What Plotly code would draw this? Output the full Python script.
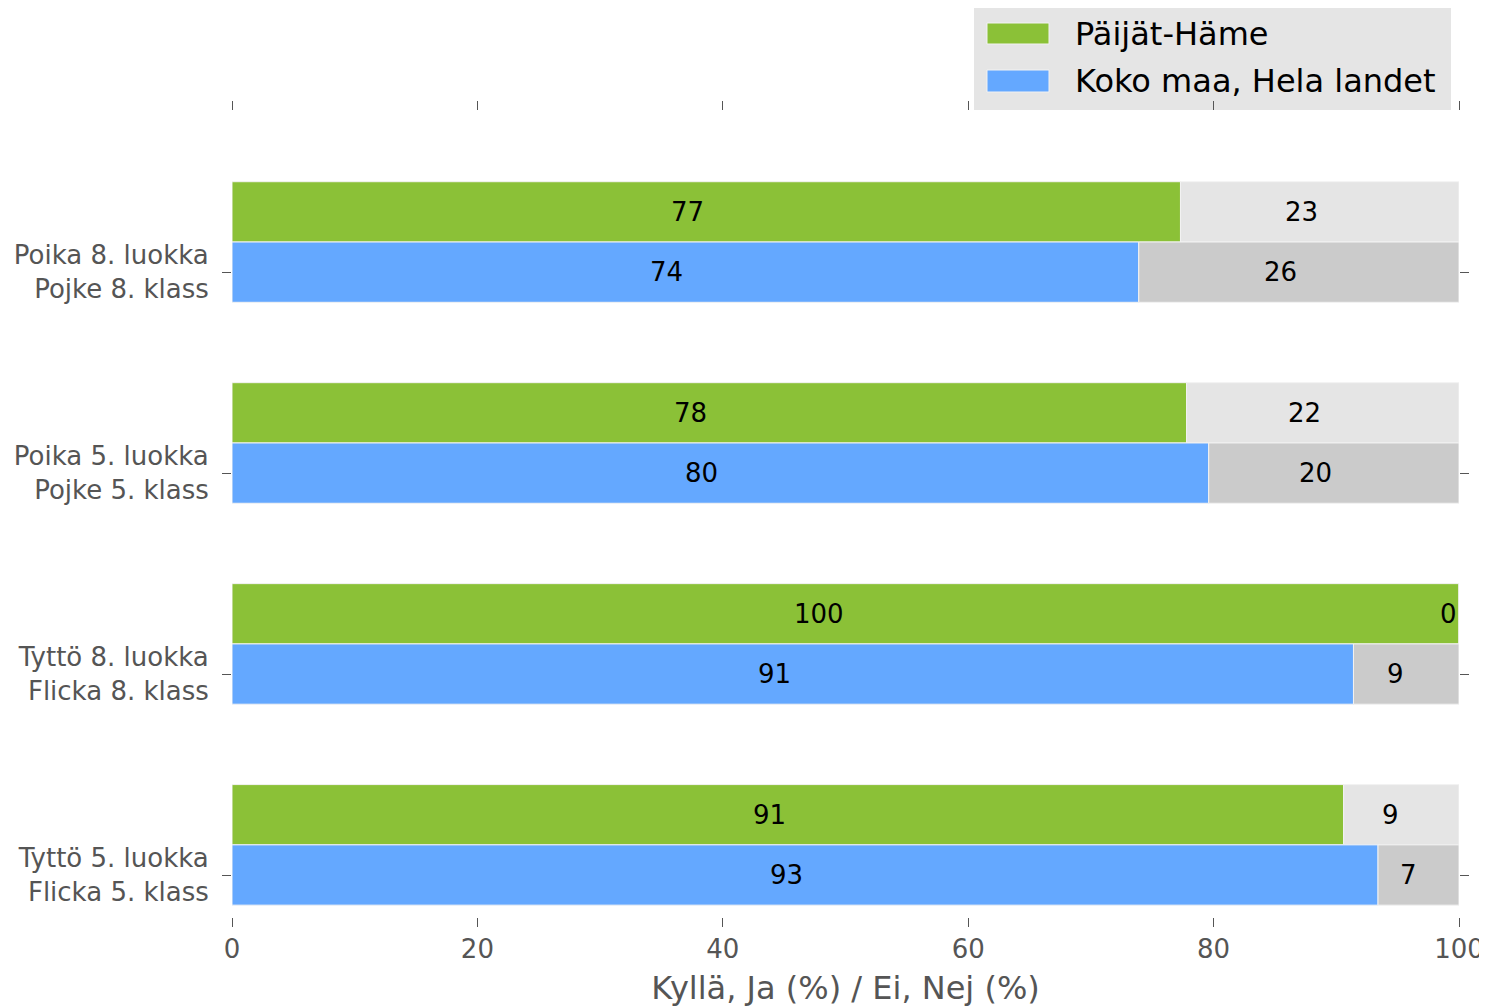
import plotly.graph_objects as go

# categories, bottom to top
groups = ["Tyttö 5. luokka<br>Flicka 5. klass",
          "Tyttö 8. luokka<br>Flicka 8. klass",
          "Poika 5. luokka<br>Pojke 5. klass",
          "Poika 8. luokka<br>Pojke 8. klass"]

# Kyllä, Ja (%)
ph_yes = [90.6, 100.0, 77.8, 77.3]   # Päijät-Häme
fi_yes = [93.4, 91.4, 79.6, 73.9]    # Koko maa, Hela landet
# Ei, Nej (%)
ph_no = [100 - v for v in ph_yes]
fi_no = [100 - v for v in fi_yes]

names = ["Päijät-Häme", "Koko maa, Hela landet"]
xticks = [0, 20, 40, 60, 80, 100]

GREEN = "#8bc137"
BLUE = "#64a8ff"
GREY_L = "#e5e5e5"
GREY_D = "#cbcbcb"
FONT = "DejaVu Sans"
BAR_H = 0.3

pos = list(range(len(groups)))
pos_ph = [p + BAR_H for p in pos]

fig = go.Figure()


def add_bar(y, x, base, color, name):
    fig.add_trace(go.Bar(
        y=y, x=x, base=base, orientation="h", width=BAR_H,
        marker=dict(color=color, line=dict(color="#f2f2f2", width=1)),
        name=name, showlegend=False, hoverinfo="x+name"
    ))


add_bar(pos_ph, ph_yes, [0] * 4, GREEN, names[0])
add_bar(pos_ph, ph_no, ph_yes, GREY_L, names[0] + " (Ei)")
add_bar(pos, fi_yes, [0] * 4, BLUE, names[1])
add_bar(pos, fi_no, fi_yes, GREY_D, names[1] + " (Ei)")

# value labels, right edge at the segment's middle
annotations = []
for ys, yes, no in [(pos_ph, ph_yes, ph_no), (pos, fi_yes, fi_no)]:
    for y, a, b in zip(ys, yes, no):
        for start, w in [(0, a), (a, b)]:
            annotations.append(dict(
                x=start + w / 2, y=y, xref="x", yref="y",
                text=f"{w:.0f}", showarrow=False,
                xanchor="right", yanchor="middle",
                font=dict(family=FONT, size=26, color="black")
            ))

# page body adds an 8px margin, so the figure is shrunk by that much
OFF = 8
W, H = 1487 - OFF, 1007 - OFF
# plot area, in screen pixels
L, R, T, B = 232, 1459, 111, 917


def px(x):
    return (x - L) / (R - L)


def py(y):
    return (B - y) / (B - T)


# legend drawn by hand (box + swatches)
shapes = [
    dict(type="rect", xref="paper", yref="paper",
         x0=px(974), x1=px(1451), y0=py(110), y1=py(8),
         fillcolor=GREY_L, line=dict(width=0), layer="below"),
]
for (c, y0, y1, ty), name in zip([(GREEN, 23, 44, 34), (BLUE, 70, 92, 81)], names):
    shapes.append(dict(type="rect", xref="paper", yref="paper",
                       x0=px(987), x1=px(1049), y0=py(y1), y1=py(y0),
                       fillcolor=c, line=dict(color="#f2f2f2", width=1)))
    annotations.append(dict(
        x=px(1073), y=py(ty), xref="paper", yref="paper",
        text=name, showarrow=False, xanchor="left", yanchor="middle",
        font=dict(family=FONT, size=32, color="black")
    ))

fig.update_layout(
    barmode="overlay",
    width=W, height=H,
    margin=dict(l=L - OFF, r=W - (R - OFF), t=T - OFF, b=H - (B - OFF),
                autoexpand=False),
    plot_bgcolor="white", paper_bgcolor="white",
    font=dict(family=FONT, size=26, color="#555555"),
    annotations=annotations,
    shapes=shapes,
    showlegend=False,
    xaxis=dict(
        range=[0, 100], tickvals=xticks, ticktext=[str(v) for v in xticks],
        showgrid=False, zeroline=False, showline=False, automargin=False,
        ticks="outside", ticklen=9, tickcolor="#555555", tickwidth=1,
        mirror="ticks", ticklabeloverflow="allow",
        tickfont=dict(family=FONT, size=26, color="#555555"),
        title=dict(text="Kyllä, Ja (%) / Ei, Nej (%)", standoff=19,
                   font=dict(family=FONT, size=32, color="#555555")),
    ),
    yaxis=dict(
        range=[-0.209, 3.802], tickvals=pos, ticktext=groups,
        showgrid=False, zeroline=False, showline=False, automargin=False,
        ticks="outside", ticklen=9, tickcolor="#555555", tickwidth=1,
        mirror="ticks", ticklabelstandoff=8,
        tickfont=dict(family=FONT, size=26, color="#555555"),
    ),
)

fig.write_html("out.html")
